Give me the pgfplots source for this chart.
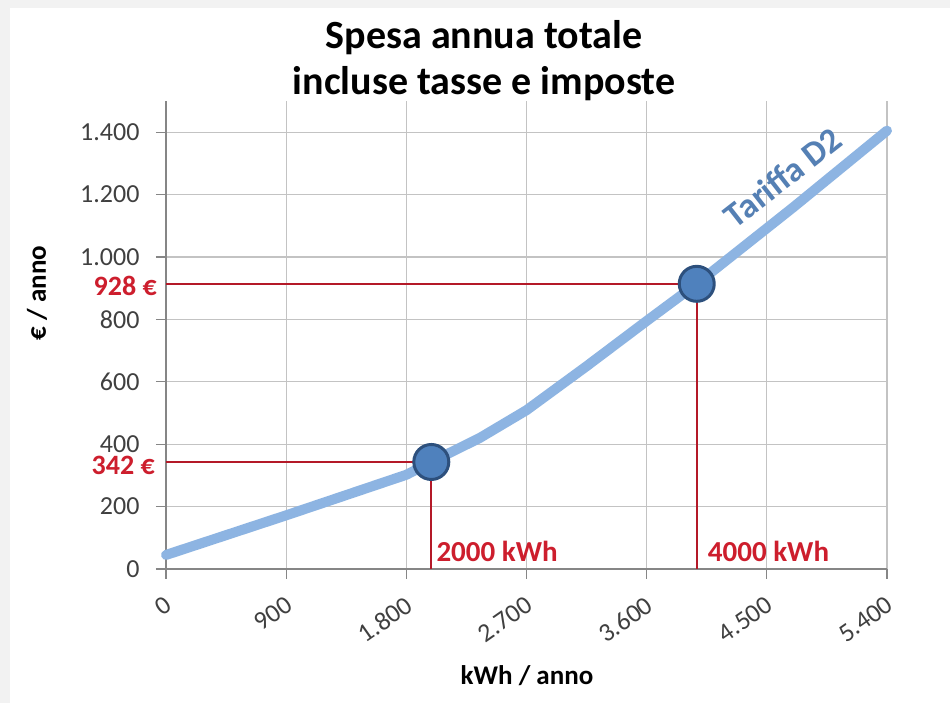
\documentclass[border=0pt]{standalone}
\usepackage{pgfplots}
\pgfplotsset{compat=1.18}
\usepackage{fontspec}
\setmainfont{Carlito}
\definecolor{bgcol}{RGB}{242,242,242}
\definecolor{linecol}{RGB}{141,180,226}
\definecolor{ptfill}{RGB}{79,129,189}
\definecolor{ptdraw}{RGB}{45,80,125}
\definecolor{gridcol}{RGB}{195,195,195}
\definecolor{axiscol}{RGB}{134,134,134}
\definecolor{tickcol}{RGB}{64,64,64}
\definecolor{redtext}{RGB}{205,30,45}
\definecolor{redline}{RGB}{180,25,40}
\definecolor{tarcol}{RGB}{85,128,180}
\begin{document}
\begin{tikzpicture}[x=1pt,y=1pt]
\path[use as bounding box] (0,0) rectangle (950,703);
\fill[bgcol] (0,0) rectangle (950,703);
\fill[white] (10,0) rectangle (950,695);
\node[anchor=base, font=\fontsize{40}{46}\selectfont\bfseries] at (484,654) {Spesa annua totale};
\node[anchor=base, font=\fontsize{40}{46}\selectfont\bfseries] at (484,608) {incluse tasse e imposte};
\node[rotate=90, font=\fontsize{27}{30}\selectfont\bfseries] at (37,410) {€ / anno};
\node[font=\fontsize{27}{30}\selectfont\bfseries] at (527,27) {kWh / anno};
\begin{axis}[
  at={(166pt,134pt)}, anchor=south west,
  scale only axis, width=721pt, height=468pt,
  xmin=0, xmax=5400, ymin=0, ymax=1500,
  xtick={0,900,1800,2700,3600,4500,5400},
  ytick={0,200,400,600,800,1000,1200,1400},
  scaled ticks=false,
  /pgf/number format/1000 sep={.},
  /pgf/number format/assume math mode=true,
  axis x line*=bottom, axis y line*=left,
  axis line style={-, color=axiscol, line width=1.5pt},
  grid=major,
  major grid style={color=gridcol, line width=1.2pt},
  tick align=outside, major tick length=10pt,
  tick style={color=axiscol, line width=1.2pt},
  xticklabel style={xshift=-2pt, yshift=-16pt, rotate=35, anchor=north east, inner sep=0pt, font=\fontsize{26}{28}\selectfont, text=tickcol},
  yticklabel style={font=\fontsize{26}{28}\selectfont, text=tickcol, xshift=-13pt},
  clip=false,
]
\addplot[color=linecol, line width=10pt, line join=round, line cap=round] coordinates {
  (0,45) (900,172) (1800,302) (1987,343) (2350,420) (2700,509) (3150,650) (3600,795) (3975,914) (4700,1160) (5400,1405)
};
\addplot[only marks, mark=*, mark size=17.5pt, mark options={fill=ptfill, draw=ptdraw, line width=3pt}] coordinates {(1987,343) (3975,914)};
\addplot[color=redline, line width=1.8pt] coordinates {(0,914) (3975,914) (3975,0)};
\addplot[color=redline, line width=1.8pt] coordinates {(0,343) (1987,343) (1987,0)};
\node[anchor=east, inner sep=0pt, text=redtext, font=\fontsize{28}{30}\selectfont\bfseries] at (axis cs:0,914) [xshift=-9pt, yshift=-2pt] {928 €};
\node[anchor=east, inner sep=0pt, text=redtext, font=\fontsize{28}{30}\selectfont\bfseries] at (axis cs:0,343) [xshift=-11pt, yshift=-3pt] {342 €};
\node[anchor=base west, inner sep=0pt, text=redtext, font=\fontsize{29}{30}\selectfont\bfseries] at (axis cs:1987,0) [xshift=5pt, yshift=7pt] {2000 kWh};
\node[anchor=base west, inner sep=0pt, text=redtext, font=\fontsize{29}{30}\selectfont\bfseries] at (axis cs:3975,0) [xshift=11pt, yshift=7pt] {4000 kWh};
\node[rotate=38, text=tarcol, font=\fontsize{35}{40}\selectfont\bfseries] at (axis cs:4620,1255) {Tariffa D2};
\end{axis}
\end{tikzpicture}
\end{document}
